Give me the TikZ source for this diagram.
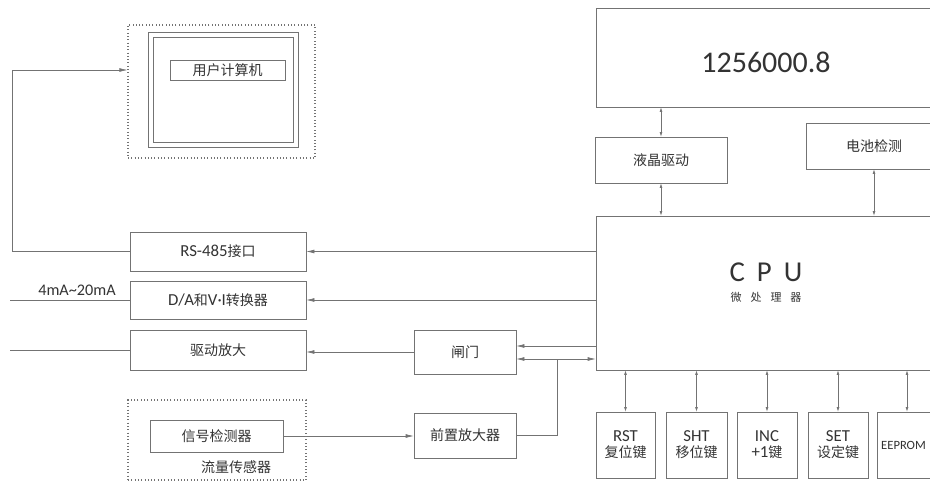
\documentclass[tikz,border=0pt]{standalone}
\usepackage{fontspec}
\setmainfont{Carlito}[Scale=1.2]
\newfontfamily\cjk{Noto Sans CJK SC}
\usetikzlibrary{arrows.meta,calc}
\definecolor{ln}{gray}{0.45}
\definecolor{tx}{gray}{0.2}
\tikzset{
  box/.style={draw=ln, line width=0.6pt, text=tx, inner sep=0pt, align=center,
    font=\fontsize{14}{17}\selectfont},
  dotbox/.style={draw=ln, line width=1.1pt, dash pattern=on 0.9pt off 2.4pt},
  wire/.style={draw=ln, line width=0.6pt},
  arr/.style={wire, -{Latex[length=8pt,width=3.8pt]}},
  darr/.style={wire, {Latex[length=4.5pt,width=2.8pt]}-{Latex[length=4.5pt,width=2.8pt]}},
  lbl/.style={text=tx, inner sep=0pt}
}
\begin{document}
\begin{tikzpicture}[x=1pt,y=-1pt]
\useasboundingbox (0,0) rectangle (930,482);
\clip (0,0) rectangle (930,482);
\fill[white] (0,0) rectangle (930,482);
% user computer
\node[dotbox, minimum width=187, minimum height=133] (usr) at (221.5,91.5) {};
\node[box, minimum width=150, minimum height=115] (usrm) at (223,89.5) {};
\node[box, minimum width=140, minimum height=105] (usri) at (223,89.5) {};
\node[box, minimum width=115, minimum height=20] (usrl) at (227.5,70) {\cjk 用户计算机};
% left column
\node[box, minimum width=176, minimum height=39] (rs) at (218,251.5) {RS-485{\cjk 接口}};
\node[box, minimum width=176, minimum height=38] (da) at (218,300) {D/A{\cjk 和}V·I{\cjk 转换器}};
\node[box, minimum width=176, minimum height=40] (drv) at (218,350) {\cjk 驱动放大};
% sensor
\node[dotbox, minimum width=178, minimum height=80] (sen) at (217,440) {};
\node[box, minimum width=133, minimum height=32] (det) at (216.5,436) {\cjk 信号检测器};
\node[lbl, font=\fontsize{14}{17}\selectfont\cjk] (senl) at (236,467) {流量传感器};
% middle
\node[box, minimum width=102, minimum height=44] (gate) at (465,352) {\cjk 闸门};
\node[box, minimum width=102, minimum height=45] (pre) at (465,435.5) {\cjk 前置放大器};
% right
\node[box, minimum width=404, minimum height=99] (disp) at (798,57.5) {};
\node[lbl, font=\fontsize{25}{30}\selectfont] (dispt) at (766,62) {1256000.8};
\node[box, minimum width=132, minimum height=46] (lcd) at (661,160) {\cjk 液晶驱动};
\node[box, minimum width=136, minimum height=46] (bat) at (874,146) {\cjk 电池检测};
\node[box, minimum width=404, minimum height=154] (cpu) at (798,293) {};
\node[lbl, font=\fontsize{24}{28}\selectfont] (cput) at (766,272) {C\hspace{12pt}P\hspace{12pt}U};
\node[lbl, font=\fontsize{11}{13}\selectfont\cjk] (cpus) at (766,297) {微\hspace{9pt}处\hspace{9pt}理\hspace{9pt}器};
% keys
\node[box, minimum width=59, minimum height=66] (rst) at (625.5,445) {RST\\[-1pt]{\cjk 复位键}};
\node[box, minimum width=61, minimum height=66] (sht) at (696.5,445) {SHT\\[-1pt]{\cjk 移位键}};
\node[box, minimum width=60, minimum height=66] (inc) at (767,445) {INC\\[-1pt]+1{\cjk 键}};
\node[box, minimum width=60, minimum height=66] (set) at (838,445) {SET\\[-1pt]{\cjk 设定键}};
\node[box, minimum width=60, minimum height=66] (eep) at (907,445) {};
\node[lbl, font=\fontsize{10.5}{13}\selectfont, anchor=west] (eept) at (881,445) {EEPROM};
% coordinates
\coordinate (c1) at (12,70);
\coordinate (c2) at (10,300);
\coordinate (c3) at (10,350);
\coordinate (j) at (557,359);
% left wires
\draw[arr] (rs.west) -| (c1) -- (c1 -| usr.west);
\draw[wire] (da.west) -- (c2);
\node[lbl, font=\fontsize{13.5}{16}\selectfont, anchor=south] (ma) at (77,296) {4mA\textasciitilde 20mA};
\draw[wire] (drv.west) -- (c3);
% CPU to left boxes
\draw[arr] (cpu.west |- rs.east) -- (rs.east);
\draw[arr] (cpu.west |- da.east) -- (da.east);
\draw[arr] (gate.west) -- (gate.west -| drv.east);
% gate / preamp
\draw[arr] (cpu.west |- 0,346) -- (gate.east |- 0,346);
\draw[arr] (j) -- (gate.east |- j);
\draw[arr] (j) -- (cpu.west |- j);
\draw[wire] (pre.east) -| (j);
\draw[arr] (det.east) -- (pre.west |- det.east);
% top
\draw[darr] (lcd.north) -- (lcd.north |- disp.south);
\draw[darr] (lcd.south) -- (lcd.south |- cpu.north);
\draw[darr] (bat.south) -- (bat.south |- cpu.north);
% keys
\foreach \k in {rst,sht,inc,set,eep}{
  \draw[darr] (\k.north) -- (\k.north |- cpu.south);
}
\end{tikzpicture}
\end{document}
